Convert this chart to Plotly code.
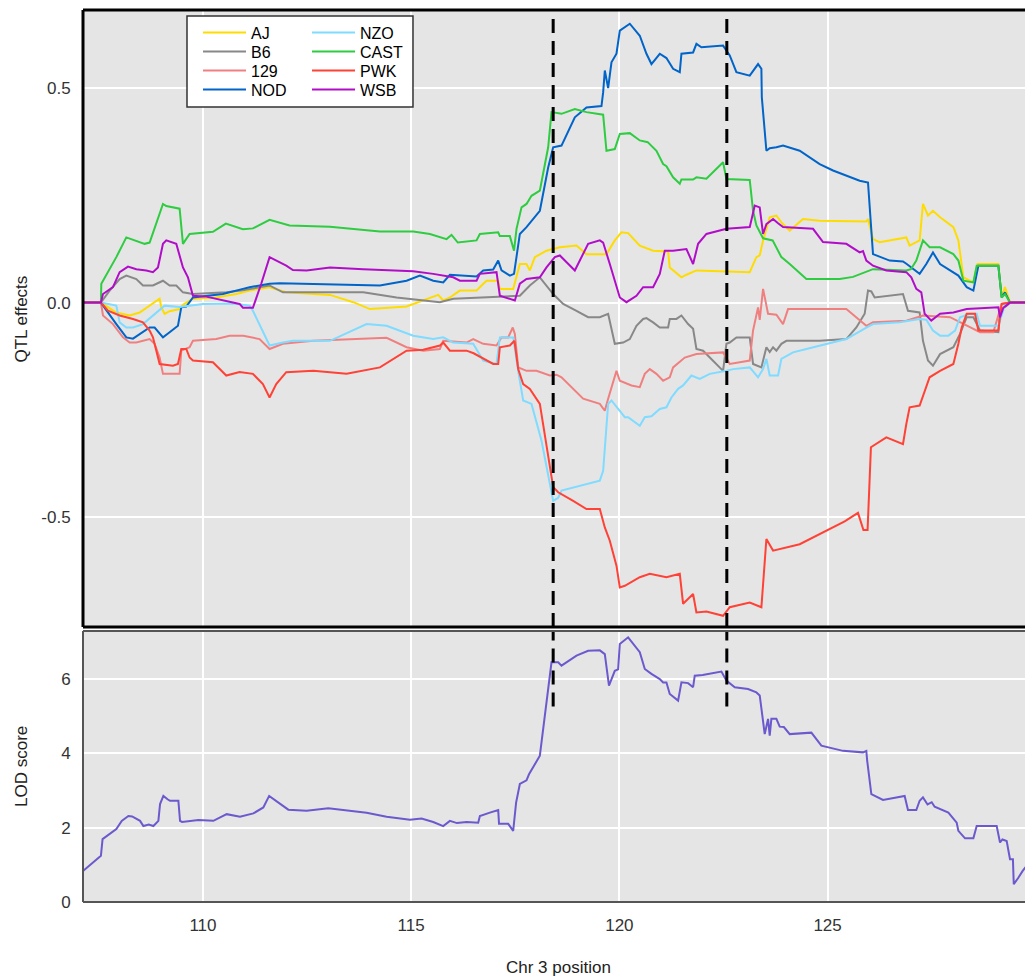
import plotly.graph_objects as go

# ---------------- founder-strain QTL effects along Chr 3 (Mb) ----------------
aj_pos = [107.12, 107.55, 107.92, 108.24, 108.48, 108.72, 108.96, 109.00, 109.08, 109.20, 109.44, 109.52,
          109.76, 110.32, 110.80, 111.12, 111.60, 112.00, 113.05, 113.61, 114.01, 114.89, 115.29, 115.53,
          115.65, 115.77, 115.93, 116.17, 116.57, 116.69, 116.81, 117.09, 117.13, 117.45, 117.61, 117.77,
          117.85, 117.97, 118.25, 118.57, 118.97, 119.21, 119.69, 119.89, 120.05, 120.21, 120.49, 120.81,
          121.17, 121.21, 121.49, 121.61, 121.85, 123.13, 123.29, 123.37, 123.45, 123.61, 123.77, 123.89,
          124.09, 124.41, 124.81, 125.93, 125.97, 126.09, 126.25, 126.89, 126.97, 127.21, 127.29, 127.41,
          127.53, 127.70, 128.02, 128.14, 128.26, 128.50, 128.60, 129.10, 129.18, 129.26, 129.38, 129.80]
aj_eff = [0, 0, -0.023, -0.030, -0.023, -0.007, 0.009, -0.011, -0.026, -0.020, -0.015, -0.005,
          0.009, 0.012, 0.020, 0.028, 0.036, 0.024, 0.018, 0.001, -0.015, -0.009, 0.005, 0.012,
          0.018, 0.005, 0.012, 0.028, 0.028, 0.040, 0.051, 0.051, 0.032, 0.032, 0.090, 0.090,
          0.075, 0.106, 0.121, 0.129, 0.133, 0.113, 0.113, 0.145, 0.164, 0.162, 0.133, 0.121,
          0.119, 0.082, 0.059, 0.065, 0.075, 0.071, 0.106, 0.110, 0.145, 0.199, 0.203, 0.187,
          0.168, 0.195, 0.191, 0.189, 0.195, 0.148, 0.141, 0.152, 0.133, 0.145, 0.230, 0.203,
          0.214, 0.199, 0.176, 0.145, 0.059, 0.047, 0.090, 0.090, 0.012, 0.036, 0, 0]

b6_pos = [107.12, 107.55, 107.76, 108.00, 108.16, 108.40, 108.56, 108.80, 109.04, 109.20, 109.36, 109.52,
          109.76, 110.56, 110.92, 111.44, 111.60, 111.92, 113.85, 114.65, 115.29, 115.69, 116.01, 116.65,
          117.13, 117.61, 117.85, 118.09, 118.41, 118.65, 118.97, 119.25, 119.53, 119.73, 119.89, 120.09,
          120.25, 120.41, 120.57, 120.65, 120.81, 120.97, 121.17, 121.21, 121.37, 121.49, 121.65, 121.77,
          121.85, 122.01, 122.49, 122.57, 122.65, 122.81, 123.13, 123.21, 123.41, 123.53, 123.61, 123.69,
          123.77, 123.89, 124.01, 124.81, 125.45, 125.69, 125.89, 125.97, 126.05, 126.13, 126.81, 126.93,
          127.21, 127.29, 127.41, 127.53, 127.70, 128.02, 128.18, 128.34, 128.50, 128.66, 129.10, 129.14,
          129.30, 129.38, 129.80]
b6_eff = [0, 0, 0.028, 0.055, 0.063, 0.055, 0.040, 0.040, 0.051, 0.040, 0.040, 0.024,
          0.020, 0.024, 0.028, 0.036, 0.040, 0.024, 0.024, 0.012, 0.005, 0.001, 0.009, 0.012,
          0.013, 0.016, 0.040, 0.059, 0.020, -0.003, -0.019, -0.034, -0.034, -0.026, -0.096, -0.093,
          -0.085, -0.054, -0.038, -0.036, -0.046, -0.058, -0.058, -0.038, -0.038, -0.030, -0.050, -0.061,
          -0.108, -0.112, -0.159, -0.096, -0.093, -0.081, -0.081, -0.143, -0.151, -0.104, -0.115, -0.104,
          -0.112, -0.096, -0.089, -0.089, -0.085, -0.058, -0.026, 0.028, 0.026, 0.012, 0.020, -0.019,
          -0.023, -0.089, -0.135, -0.147, -0.120, -0.104, -0.073, -0.034, -0.034, -0.065, -0.069, -0.019,
          -0.007, 0, 0]

s129_pos = [107.12, 107.55, 107.60, 107.84, 108.08, 108.24, 108.40, 108.56, 108.72, 108.84, 108.96, 109.04,
            109.44, 109.48, 109.68, 109.76, 110.32, 110.64, 110.97, 111.36, 111.60, 111.92, 112.65, 114.41,
            114.89, 115.29, 115.69, 115.77, 116.33, 116.49, 116.73, 117.05, 117.17, 117.33, 117.44, 117.49,
            117.57, 117.77, 118.01, 118.33, 118.49, 118.61, 119.13, 119.53, 119.65, 119.73, 119.93, 120.01,
            120.29, 120.49, 120.61, 120.73, 120.89, 121.05, 121.21, 121.29, 121.45, 121.57, 121.85, 122.49,
            122.65, 123.13, 123.21, 123.33, 123.37, 123.45, 123.57, 123.77, 123.93, 124.05, 125.45, 125.69,
            125.93, 126.09, 126.89, 127.29, 127.94, 128.66, 128.98, 129.18, 129.38, 129.80]
s129_eff = [0, 0, -0.030, -0.050, -0.081, -0.093, -0.093, -0.089, -0.085, -0.096, -0.128, -0.166,
            -0.166, -0.112, -0.104, -0.089, -0.085, -0.077, -0.077, -0.085, -0.108, -0.096, -0.089, -0.082,
            -0.104, -0.112, -0.108, -0.089, -0.093, -0.085, -0.096, -0.100, -0.081, -0.081, -0.058, -0.073,
            -0.151, -0.159, -0.159, -0.170, -0.168, -0.174, -0.224, -0.236, -0.252, -0.224, -0.159, -0.182,
            -0.193, -0.197, -0.166, -0.155, -0.166, -0.182, -0.174, -0.151, -0.139, -0.128, -0.120, -0.116,
            -0.143, -0.135, -0.065, -0.011, -0.040, 0.032, -0.026, -0.028, -0.050, -0.015, -0.015, -0.034,
            -0.054, -0.046, -0.042, -0.030, -0.034, -0.069, -0.069, -0.003, 0, 0]

nod_pos = [107.12, 107.55, 107.92, 108.16, 108.32, 108.48, 108.72, 108.84, 109.04, 109.20, 109.40, 109.48,
           109.60, 109.76, 110.48, 110.96, 111.12, 111.60, 111.85, 114.25, 114.89, 115.21, 115.53, 115.77,
           115.93, 116.57, 116.73, 116.97, 117.09, 117.17, 117.37, 117.47, 117.61, 117.77, 118.09, 118.29,
           118.41, 118.61, 118.93, 119.21, 119.57, 119.61, 119.65, 119.73, 119.81, 119.93, 120.01, 120.25,
           120.49, 120.65, 120.77, 120.97, 121.13, 121.29, 121.45, 121.49, 121.77, 121.85, 121.97, 122.49,
           122.65, 122.81, 123.13, 123.33, 123.41, 123.42, 123.53, 123.61, 123.77, 123.93, 124.33, 124.81,
           125.13, 125.77, 125.97, 126.09, 126.49, 126.81, 126.90, 127.21, 127.37, 127.53, 127.70, 128.14,
           128.34, 128.50, 128.62, 129.10, 129.18, 129.26, 129.38, 129.80]
nod_eff = [0, 0, -0.050, -0.081, -0.084, -0.073, -0.058, -0.058, -0.081, -0.069, -0.054, -0.011,
           -0.009, 0.012, 0.020, 0.032, 0.036, 0.044, 0.045, 0.040, 0.051, 0.063, 0.051, 0.047,
           0.065, 0.061, 0.075, 0.077, 0.098, 0.075, 0.063, 0.067, 0.160, 0.176, 0.214, 0.315,
           0.362, 0.366, 0.432, 0.455, 0.458, 0.490, 0.541, 0.500, 0.560, 0.580, 0.634, 0.650,
           0.622, 0.580, 0.556, 0.580, 0.570, 0.545, 0.537, 0.580, 0.583, 0.603, 0.595, 0.599,
           0.576, 0.537, 0.529, 0.556, 0.545, 0.479, 0.354, 0.360, 0.362, 0.366, 0.354, 0.323,
           0.308, 0.284, 0.280, 0.113, 0.098, 0.096, 0.090, 0.067, 0.090, 0.117, 0.090, 0.063,
           0.036, 0.028, 0.086, 0.086, 0.012, 0.024, 0, 0]

nzo_pos = [107.12, 107.55, 107.92, 108.00, 108.16, 108.32, 108.56, 108.80, 108.92, 109.08, 109.44, 110.00,
           110.72, 111.12, 111.20, 111.60, 111.92, 112.16, 113.05, 113.93, 114.41, 115.05, 115.53, 115.77,
           116.01, 116.49, 116.73, 117.05, 117.13, 117.45, 117.57, 117.69, 117.89, 118.13, 118.41, 118.53,
           118.61, 119.53, 119.61, 119.73, 119.81, 120.13, 120.21, 120.49, 120.61, 120.77, 120.97, 121.13,
           121.25, 121.41, 121.53, 121.73, 121.93, 122.17, 122.57, 122.73, 123.13, 123.33, 123.45, 123.53,
           123.61, 123.81, 123.89, 124.17, 124.49, 124.97, 125.45, 125.93, 126.09, 126.73, 127.21, 127.37,
           127.53, 127.70, 127.90, 128.06, 128.18, 128.42, 128.58, 128.66, 129.10, 129.26, 129.38, 129.80]
nzo_eff = [0, 0, -0.007, -0.046, -0.058, -0.058, -0.050, -0.030, -0.019, -0.007, -0.010, -0.003,
           -0.002, -0.007, -0.019, -0.100, -0.093, -0.089, -0.089, -0.050, -0.054, -0.077, -0.085, -0.081,
           -0.093, -0.096, -0.135, -0.143, -0.081, -0.081, -0.159, -0.228, -0.236, -0.322, -0.462, -0.455,
           -0.438, -0.415, -0.392, -0.236, -0.228, -0.267, -0.267, -0.287, -0.267, -0.265, -0.248, -0.244,
           -0.221, -0.201, -0.193, -0.170, -0.178, -0.166, -0.159, -0.155, -0.151, -0.174, -0.155, -0.131,
           -0.170, -0.170, -0.131, -0.116, -0.108, -0.096, -0.085, -0.058, -0.050, -0.046, -0.038, -0.040,
           -0.065, -0.077, -0.077, -0.065, -0.034, -0.026, -0.026, -0.054, -0.054, -0.005, 0, 0]

cast_pos = [107.12, 107.55, 107.56, 107.92, 108.16, 108.60, 108.72, 109.04, 109.12, 109.44, 109.52, 109.68,
            110.24, 110.55, 110.96, 111.20, 111.60, 112.08, 113.05, 114.25, 115.05, 115.45, 115.85, 115.97,
            116.12, 116.57, 116.65, 117.09, 117.13, 117.37, 117.47, 117.53, 117.65, 117.77, 117.89, 118.09,
            118.29, 118.37, 118.61, 118.93, 119.21, 119.61, 119.69, 119.89, 120.01, 120.25, 120.49, 120.68,
            120.89, 121.05, 121.13, 121.29, 121.45, 121.49, 121.77, 121.85, 122.09, 122.49, 122.57, 123.13,
            123.21, 123.29, 123.45, 123.68, 123.89, 124.09, 124.49, 125.29, 125.61, 125.93, 126.09, 126.89,
            127.00, 127.13, 127.29, 127.45, 127.70, 128.02, 128.14, 128.26, 128.50, 128.58, 129.10, 129.18,
            129.26, 129.38, 129.80]
cast_eff = [0, 0, 0.044, 0.106, 0.152, 0.137, 0.140, 0.230, 0.225, 0.219, 0.137, 0.160,
            0.165, 0.184, 0.171, 0.173, 0.193, 0.180, 0.177, 0.166, 0.166, 0.160, 0.148, 0.158,
            0.140, 0.145, 0.160, 0.164, 0.155, 0.155, 0.121, 0.172, 0.222, 0.230, 0.249, 0.261,
            0.362, 0.444, 0.440, 0.451, 0.444, 0.438, 0.354, 0.358, 0.393, 0.395, 0.378, 0.374,
            0.354, 0.323, 0.318, 0.292, 0.277, 0.287, 0.287, 0.292, 0.289, 0.327, 0.288, 0.286,
            0.214, 0.180, 0.150, 0.145, 0.106, 0.090, 0.055, 0.055, 0.060, 0.071, 0.078, 0.075,
            0.078, 0.098, 0.145, 0.129, 0.129, 0.113, 0.098, 0.051, 0.047, 0.086, 0.086, 0.012,
            0.020, 0, 0]

pwk_pos = [107.12, 107.55, 107.72, 108.00, 108.32, 108.56, 108.72, 108.80, 108.96, 109.28, 109.40, 109.48,
           109.60, 109.68, 109.76, 110.24, 110.56, 110.88, 111.20, 111.44, 111.60, 111.76, 112.00, 112.65,
           113.45, 114.25, 114.89, 115.29, 115.69, 115.77, 115.93, 116.33, 116.50, 116.97, 117.09, 117.13,
           117.37, 117.48, 117.57, 117.69, 117.85, 118.09, 118.41, 118.53, 118.89, 119.21, 119.53, 119.65,
           119.77, 119.93, 120.01, 120.13, 120.49, 120.73, 121.13, 121.45, 121.53, 121.77, 121.85, 122.09,
           122.49, 122.65, 123.13, 123.33, 123.41, 123.53, 123.69, 124.33, 124.81, 125.41, 125.73, 125.86,
           125.96, 126.04, 126.41, 126.81, 126.89, 126.97, 127.21, 127.45, 127.70, 128.02, 128.14, 128.22,
           128.34, 128.54, 128.62, 129.10, 129.18, 129.38, 129.80]
pwk_eff = [0, 0, -0.019, -0.030, -0.038, -0.046, -0.065, -0.081, -0.143, -0.147, -0.143, -0.108,
           -0.108, -0.128, -0.135, -0.139, -0.170, -0.162, -0.166, -0.190, -0.221, -0.190, -0.162, -0.159,
           -0.166, -0.151, -0.112, -0.110, -0.100, -0.093, -0.112, -0.112, -0.118, -0.143, -0.143, -0.104,
           -0.100, -0.089, -0.155, -0.190, -0.201, -0.236, -0.430, -0.442, -0.462, -0.481, -0.481, -0.524,
           -0.555, -0.613, -0.664, -0.660, -0.640, -0.632, -0.640, -0.632, -0.702, -0.679, -0.722, -0.720,
           -0.730, -0.710, -0.699, -0.706, -0.710, -0.551, -0.578, -0.563, -0.540, -0.510, -0.490, -0.530,
           -0.530, -0.337, -0.314, -0.330, -0.283, -0.244, -0.240, -0.174, -0.159, -0.143, -0.096, -0.058,
           -0.026, -0.026, -0.065, -0.065, -0.003, 0, 0]

wsb_pos = [107.12, 107.55, 107.60, 107.84, 108.00, 108.20, 108.40, 108.64, 108.80, 108.92, 109.04, 109.12,
           109.36, 109.52, 109.64, 109.76, 110.08, 110.48, 110.88, 110.96, 111.20, 111.40, 111.60, 112.00,
           112.16, 112.49, 113.05, 113.85, 115.05, 115.53, 115.77, 116.01, 116.17, 116.57, 116.65, 117.05,
           117.13, 117.37, 117.49, 117.61, 117.77, 118.09, 118.25, 118.45, 118.57, 118.93, 119.25, 119.53,
           119.61, 119.77, 120.01, 120.17, 120.41, 120.57, 120.81, 120.97, 121.09, 121.29, 121.61, 121.77,
           121.89, 122.09, 122.57, 123.13, 123.25, 123.37, 123.45, 123.53, 123.69, 123.81, 123.93, 124.65,
           124.89, 125.45, 125.77, 125.85, 125.93, 126.09, 126.41, 126.89, 127.01, 127.13, 127.25, 127.33,
           127.49, 127.70, 128.02, 128.34, 129.10, 129.14, 129.22, 129.38, 129.80]
wsb_eff = [0, 0, 0.020, 0.036, 0.071, 0.084, 0.078, 0.075, 0.071, 0.082, 0.137, 0.145,
           0.137, 0.082, 0.059, 0.016, 0.014, 0.005, -0.003, -0.012, -0.012, 0.044, 0.106, 0.086,
           0.076, 0.075, 0.082, 0.078, 0.073, 0.067, 0.063, 0.059, 0.051, 0.051, 0.067, 0.071,
           0.016, 0.009, 0.005, 0.044, 0.055, 0.059, 0.082, 0.106, 0.110, 0.075, 0.137, 0.145,
           0.140, 0.090, 0.012, 0.001, 0.016, 0.036, 0.036, 0.067, 0.121, 0.121, 0.125, 0.090,
           0.137, 0.160, 0.172, 0.176, 0.226, 0.222, 0.160, 0.183, 0.195, 0.185, 0.176, 0.172,
           0.141, 0.137, 0.117, 0.120, 0.098, 0.086, 0.075, 0.071, 0.059, 0.032, 0.024, -0.026,
           -0.042, -0.026, -0.023, -0.015, -0.011, -0.034, -0.012, 0, 0]

# ---------------- LOD profile ----------------
lod_pos = [107.12, 107.55, 107.59, 107.92, 108.05, 108.21, 108.30, 108.49, 108.57, 108.70, 108.81, 108.93,
           108.97, 109.05, 109.15, 109.21, 109.41, 109.45, 109.50, 109.77, 109.89, 110.25, 110.57, 110.89,
           111.21, 111.45, 111.59, 112.05, 112.49, 113.01, 113.93, 114.41, 114.97, 115.25, 115.53, 115.77,
           115.93, 116.10, 116.33, 116.61, 116.65, 116.89, 117.09, 117.11, 117.33, 117.45, 117.52, 117.61,
           117.77, 117.83, 118.09, 118.37, 118.53, 118.61, 118.97, 119.25, 119.53, 119.65, 119.75, 119.89,
           119.97, 120.01, 120.21, 120.49, 120.61, 120.77, 120.97, 121.05, 121.13, 121.21, 121.41, 121.49,
           121.65, 121.77, 121.81, 122.00, 122.45, 122.57, 122.77, 123.09, 123.29, 123.37, 123.45, 123.49,
           123.57, 123.61, 123.65, 123.77, 123.85, 123.95, 124.09, 124.61, 124.85, 125.37, 125.85, 125.93,
           125.95, 126.05, 126.33, 126.85, 126.93, 127.13, 127.21, 127.29, 127.40, 127.50, 127.57, 127.90,
           128.10, 128.14, 128.30, 128.50, 128.58, 129.06, 129.14, 129.20, 129.30, 129.38, 129.45, 129.47,
           129.58, 129.68, 129.80]
lod_val = [0.83, 1.24, 1.69, 1.96, 2.18, 2.31, 2.30, 2.18, 2.04, 2.08, 2.04, 2.18,
           2.63, 2.85, 2.76, 2.72, 2.72, 2.18, 2.15, 2.18, 2.20, 2.18, 2.36, 2.29,
           2.38, 2.54, 2.85, 2.48, 2.45, 2.52, 2.40, 2.29, 2.21, 2.24, 2.15, 2.04,
           2.18, 2.12, 2.15, 2.13, 2.31, 2.40, 2.47, 2.10, 2.10, 1.91, 2.67, 3.17,
           3.27, 3.43, 3.93, 6.44, 6.44, 6.35, 6.62, 6.75, 6.76, 6.66, 5.81, 6.21,
           6.25, 6.93, 7.11, 6.71, 6.26, 6.13, 5.99, 5.90, 5.90, 5.59, 5.41, 5.90,
           5.88, 5.77, 6.08, 6.10, 6.19, 5.95, 5.77, 5.72, 5.63, 5.55, 4.92, 4.51,
           4.92, 4.47, 4.92, 4.92, 4.71, 4.70, 4.51, 4.55, 4.20, 4.06, 4.02, 4.06,
           3.80, 2.90, 2.74, 2.85, 2.47, 2.47, 2.72, 2.81, 2.62, 2.68, 2.56, 2.40,
           2.13, 1.91, 1.71, 1.71, 2.04, 2.04, 1.60, 1.68, 1.64, 1.15, 1.15, 0.48,
           0.65, 0.83, 1.00]

# LOD support interval drawn as dashed markers
interval_bounds = [118.41, 122.58]

strains = ["AJ", "B6", "129", "NOD", "NZO", "CAST", "PWK", "WSB"]
strain_colors = ["#FFDC00", "#888888", "#F08080", "#0064C9",
                 "#7FDBFF", "#2ECC40", "#FF4136", "#B10DC9"]
strain_pos = [aj_pos, b6_pos, s129_pos, nod_pos, nzo_pos, cast_pos, pwk_pos, wsb_pos]
strain_eff = [aj_eff, b6_eff, s129_eff, nod_eff, nzo_eff, cast_eff, pwk_eff, wsb_eff]

X_RANGE = [107.12, 129.74]
EFF_RANGE = [-0.756, 0.682]
LOD_RANGE = [0, 7.28]
FONT = "Liberation Sans, Arial, sans-serif"

fig = go.Figure()

# key laid out as two columns: one small legend per row (AJ/NZO, B6/CAST, 129/PWK, NOD/WSB)
row_legend = ["legend", "legend2", "legend3", "legend4"]
for i, (name, col, xs, ys) in enumerate(zip(strains, strain_colors, strain_pos, strain_eff)):
    fig.add_trace(go.Scatter(
        x=xs, y=ys, mode="lines", name=name,
        line=dict(color=col, width=2),
        xaxis="x", yaxis="y",
        legend=row_legend[i % 4],
        legendrank=i // 4 + 1,
    ))

fig.add_trace(go.Scatter(
    x=lod_pos, y=lod_val, mode="lines", name="LOD",
    line=dict(color="#6A5ACD", width=2),
    xaxis="x2", yaxis="y2", showlegend=False,
))

shapes = []
for xb in interval_bounds:
    shapes.append(dict(type="line", xref="x", yref="y domain", x0=xb, x1=xb, y0=0, y1=1,
                       line=dict(color="black", width=3, dash="14px,8px"), layer="above"))
    shapes.append(dict(type="line", xref="x2", yref="y2", x0=xb, x1=xb, y0=5.25, y1=LOD_RANGE[1],
                       line=dict(color="black", width=3, dash="14px,8px"), layer="above"))

# panel frames: left, top and bottom edges
for xr, yr, col, w in [("x domain", "y domain", "black", 3), ("x2 domain", "y2 domain", "#555555", 2)]:
    shapes.append(dict(type="line", xref=xr, yref=yr, x0=0, x1=0, y0=0, y1=1, line=dict(color=col, width=w), layer="above"))
    shapes.append(dict(type="line", xref=xr, yref=yr, x0=0, x1=1, y0=1, y1=1, line=dict(color=col, width=w), layer="above"))
    shapes.append(dict(type="line", xref=xr, yref=yr, x0=0, x1=1, y0=0, y1=0, line=dict(color=col, width=w), layer="above"))

# key box
shapes.append(dict(type="rect", xref="paper", yref="paper",
                   x0=0.1104, x1=0.3503, y0=0.8913, y1=0.9933,
                   fillcolor="white", line=dict(color="#333333", width=1.5), layer="above"))

axis_common = dict(showgrid=True, gridcolor="white", gridwidth=1.5, zeroline=False,
                   showline=False, ticks="outside", ticklen=8, tickcolor="rgba(0,0,0,0)",
                   tickfont=dict(family=FONT, size=17, color="#333333"))

legend_rows_y = [0.9748, 0.9535, 0.9322, 0.9109]
legend_layout = {}
for key, ly in zip(row_legend, legend_rows_y):
    legend_layout[key] = dict(
        x=0.1221, y=ly, xanchor="left", yanchor="middle", orientation="h",
        bgcolor="rgba(0,0,0,0)", borderwidth=0, itemwidth=43,
        entrywidth=51, entrywidthmode="pixels",
        font=dict(family=FONT, size=16, color="black"),
    )

fig.update_layout(
    width=1025, height=977,
    margin=dict(l=83, r=0, t=10, b=75),
    paper_bgcolor="white", plot_bgcolor="#E5E5E5",
    font=dict(family=FONT, size=17, color="#222222"),
    xaxis=dict(domain=[0, 1], range=X_RANGE, anchor="y", showticklabels=False,
               tickvals=[110, 115, 120, 125], **axis_common),
    yaxis=dict(domain=[0.3083, 1.0], range=EFF_RANGE, anchor="x",
               tickvals=[-0.5, 0, 0.5], ticktext=["-0.5", "0.0", "0.5"], **axis_common),
    xaxis2=dict(domain=[0, 1], range=X_RANGE, anchor="y2", matches="x",
                tickvals=[110, 115, 120, 125], ticktext=["110", "115", "120", "125"], **axis_common),
    yaxis2=dict(domain=[0, 0.3038], range=LOD_RANGE, anchor="x2",
                tickvals=[0, 2, 4, 6], ticktext=["0", "2", "4", "6"], **axis_common),
    shapes=shapes,
    annotations=[
        dict(text="QTL effects", xref="paper", yref="paper", x=-0.0648, y=0.654,
             textangle=-90, showarrow=False, xanchor="center", yanchor="middle",
             font=dict(family=FONT, size=17, color="#222222")),
        dict(text="LOD score", xref="paper", yref="paper", x=-0.0648, y=0.1525,
             textangle=-90, showarrow=False, xanchor="center", yanchor="middle",
             font=dict(family=FONT, size=17, color="#222222")),
        dict(text="Chr 3 position", xref="paper", yref="paper", x=0.5053, y=-0.0729,
             showarrow=False, xanchor="center", yanchor="middle",
             font=dict(family=FONT, size=17, color="#222222")),
    ],
    **legend_layout,
)

fig.write_html("out.html")
